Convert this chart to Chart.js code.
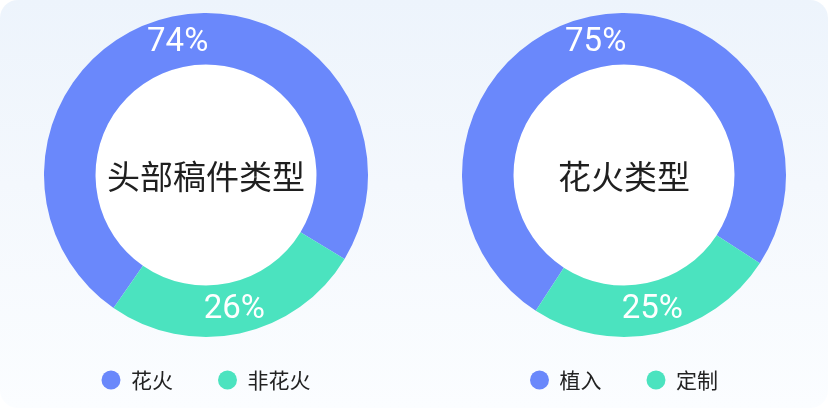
<!DOCTYPE html>
<html>
<head>
<meta charset="utf-8">
<script src="https://cdn.jsdelivr.net/npm/chart.js@4.4.1/dist/chart.umd.min.js"></script>
<style>
  html, body { margin: 0; padding: 0; background: #ffffff; }
  body { width: 828px; height: 408px; position: relative; overflow: hidden; }
  .card {
    position: absolute; left: 0; top: 0; width: 828px; height: 408px;
    border-radius: 18px;
    background: linear-gradient(180deg, #edf4fc 0%, #f4f8fd 45%, #fbfdff 100%);
  }
  .box { position: absolute; top: 0; height: 408px; }
</style>
</head>
<body>
<div class="card"></div>
<div class="box" style="left:0;width:412px;"><canvas id="c1"></canvas></div>
<div class="box" style="left:419px;width:410px;"><canvas id="c2"></canvas></div>
<script>
// ---- data ----
const leftCategories = ['花火', '非花火'];
const leftValues = [74, 26];
const leftTitle = '头部稿件类型';

const rightCategories = ['植入', '定制'];
const rightValues = [75, 25];
const rightTitle = '花火类型';

const sliceColors = ['#6a88fb', '#4be3bf'];

// ---- plugins ----
const ringPlugin = {
  id: 'ringDecor',
  beforeDatasetsDraw(chart) {
    const arc = chart.getDatasetMeta(0).data[0];
    if (!arc) return;
    const ctx = chart.ctx;
    ctx.save();
    ctx.beginPath();
    ctx.arc(arc.x, arc.y, arc.innerRadius, 0, Math.PI * 2);
    ctx.fillStyle = '#ffffff';
    ctx.fill();
    ctx.restore();
  },
  afterDatasetsDraw(chart, args, opts) {
    const meta = chart.getDatasetMeta(0);
    const ctx = chart.ctx;
    const ds = chart.data.datasets[0];
    ctx.save();
    // center title
    const a0 = meta.data[0];
    ctx.fillStyle = '#1f1f1f';
    ctx.font = '400 33px "Noto Sans CJK SC", sans-serif';
    ctx.textAlign = 'center';
    ctx.textBaseline = 'middle';
    ctx.fillText(opts.title, a0.x, a0.y + 1);
    // percentage labels
    ctx.fillStyle = '#ffffff';
    ctx.font = '400 33px Roboto, "Noto Sans", sans-serif';
    meta.data.forEach((el, i) => {
      const p = el.tooltipPosition();
      ctx.fillText(ds.data[i] + '%', p.x, p.y + 1);
    });
    ctx.restore();
  },
  afterLayout(chart) {
    if (chart.legend) {
      chart.legend.top -= 12.5;
      chart.legend.bottom -= 12.5;
    }
  }
};

function makeChart(id, labels, values, title, rotation) {
  return new Chart(document.getElementById(id), {
    type: 'doughnut',
    data: {
      labels: labels,
      datasets: [{
        data: values,
        backgroundColor: sliceColors,
        borderWidth: 0,
        hoverOffset: 0
      }]
    },
    options: {
      responsive: true,
      maintainAspectRatio: false,
      animation: false,
      cutout: '68.2%',
      rotation: rotation,
      layout: { padding: { top: 13, bottom: -5, left: 0, right: 0 } },
      plugins: {
        tooltip: { enabled: false },
        ringDecor: { title: title },
        legend: {
          position: 'bottom',
          labels: {
            usePointStyle: true,
            pointStyle: 'circle',
            boxWidth: 19,
            boxHeight: 13.4,
            padding: 45,
            color: '#222222',
            font: { size: 21, family: '"Noto Sans CJK SC", sans-serif' }
          }
        }
      }
    },
    plugins: [ringPlugin]
  });
}

makeChart('c1', leftCategories, leftValues, leftTitle, -145.2);
makeChart('c2', rightCategories, rightValues, rightTitle, -147);
</script>
</body>
</html>
